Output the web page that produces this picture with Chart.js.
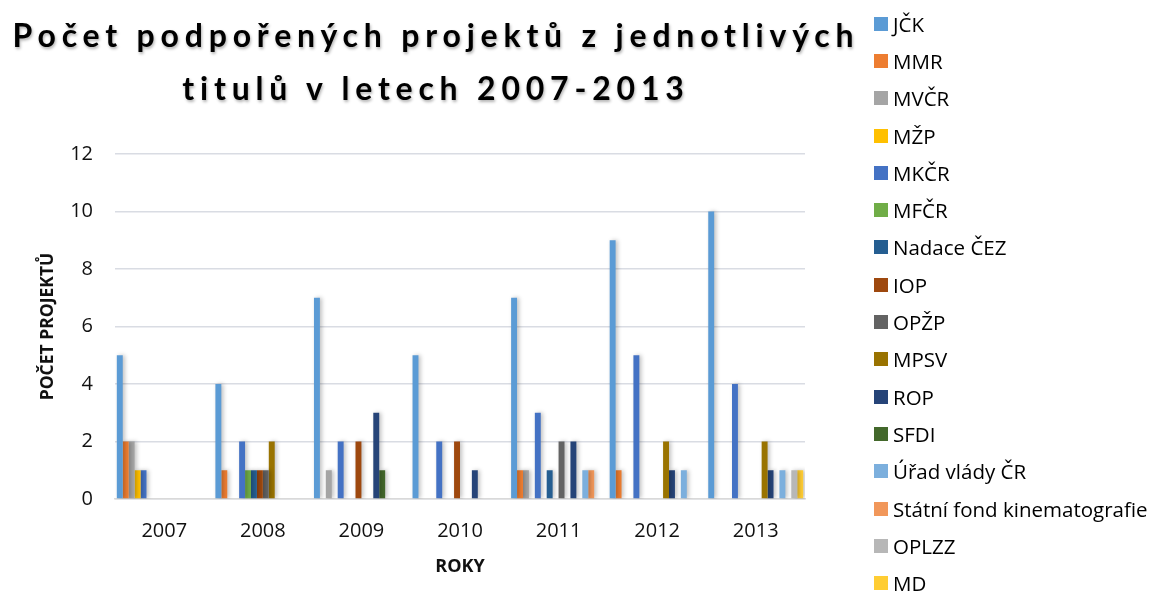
<!DOCTYPE html>
<html>
<head>
<meta charset="utf-8">
<script src="https://cdn.jsdelivr.net/npm/chart.js@4"></script>
<style>
  html, body { margin: 0; padding: 0; background: #fff; overflow: hidden; }
  #wrap { position: relative; width: 1155px; height: 592px; }
  #chart { position: absolute; left: 0; top: 0; }
  #title {
    position: absolute; left: 0; top: 8px; width: 872px;
    text-align: center; font-family: Lato, sans-serif; font-weight: 700;
    font-size: 32px; line-height: 53px; letter-spacing: 5.8px; color: #000;
    text-shadow: 1px 2px 3px rgba(0,0,0,0.3);
  }
  #legend { position: absolute; left: 874px; top: 5px; margin: 0; padding: 0; list-style: none; }
  #legend li {
    height: 37.3px; display: flex; align-items: center;
    font-family: 'Open Sans', sans-serif; font-size: 20.5px; color: #000; white-space: nowrap;
  }
  #legend span.box { width: 14px; height: 14px; margin-right: 5px; display: inline-block; }
</style>
</head>
<body>
<div id="wrap">
  <canvas id="chart" width="1155" height="592"></canvas>
  <div id="title">Počet podpořených projektů z jednotlivých<br>titulů v letech 2007-2013</div>
  <ul id="legend"></ul>
</div>
<script>
// roky a zdroje financování
const years = ['2007', '2008', '2009', '2010', '2011', '2012', '2013'];
const sources = ['JČK', 'MMR', 'MVČR', 'MŽP', 'MKČR', 'MFČR', 'Nadace ČEZ', 'IOP', 'OPŽP',
  'MPSV', 'ROP', 'SFDI', 'Úřad vlády ČR', 'Státní fond kinematografie', 'OPLZZ', 'MD'];
const colors = ['#5B9BD5', '#ED7D31', '#A5A5A5', '#FFC000', '#4472C4', '#70AD47', '#255E91', '#9E480E',
  '#636363', '#997300', '#264478', '#43682B', '#7CAFDD', '#F1975A', '#B7B7B7', '#FFCD33'];

// počty projektů, jeden řádek na zdroj (po letech)
const counts = [
  [5, 4, 7, 5, 7, 9, 10], // JČK
  [2, 1, 0, 0, 1, 1, 0],  // MMR
  [2, 0, 1, 0, 1, 0, 0],  // MVČR
  [1, 0, 0, 0, 0, 0, 0],  // MŽP
  [1, 2, 2, 2, 3, 5, 4],  // MKČR
  [0, 1, 0, 0, 0, 0, 0],  // MFČR
  [0, 1, 0, 0, 1, 0, 0],  // Nadace ČEZ
  [0, 1, 2, 2, 0, 0, 0],  // IOP
  [0, 1, 0, 0, 2, 0, 0],  // OPŽP
  [0, 2, 0, 0, 0, 2, 2],  // MPSV
  [0, 0, 3, 1, 2, 1, 1],  // ROP
  [0, 0, 1, 0, 0, 0, 0],  // SFDI
  [0, 0, 0, 0, 1, 1, 1],  // Úřad vlády ČR
  [0, 0, 0, 0, 1, 0, 0],  // Státní fond kinematografie
  [0, 0, 0, 0, 0, 0, 1],  // OPLZZ
  [0, 0, 0, 0, 0, 0, 1]   // MD
];
const yTicks = [0, 2, 4, 6, 8, 10, 12];

const datasets = sources.map((name, i) => ({
  label: name,
  data: counts[i],
  backgroundColor: colors[i],
  borderWidth: 0,
  categoryPercentage: 0.963,
  barPercentage: 1
}));

// jemný stín za sloupci
const barShadow = {
  id: 'barShadow',
  beforeDatasetsDraw(chart) {
    const ctx = chart.ctx;
    ctx.save();
    ctx.shadowColor = 'rgba(0,0,0,0.25)';
    ctx.shadowBlur = 4;
    ctx.shadowOffsetX = 2;
    ctx.shadowOffsetY = 0;
  },
  afterDatasetsDraw(chart) {
    chart.ctx.restore();
  }
};

const chart = new Chart(document.getElementById('chart').getContext('2d'), {
  type: 'bar',
  data: { labels: years, datasets: datasets },
  plugins: [barShadow],
  options: {
    responsive: false,
    animation: false,
    layout: { padding: { left: 0, right: 350, top: 154, bottom: 0 } },
    plugins: { legend: { display: false }, title: { display: false }, tooltip: { enabled: false } },
    scales: {
      x: {
        grid: { display: false },
        border: { display: true, color: '#D9D9D9', width: 1.5 },
        ticks: { color: '#111', font: { family: 'Open Sans', size: 20 }, padding: 12 },
        title: { display: true, text: 'ROKY', color: '#111',
          font: { family: 'Open Sans', size: 18, weight: 'bold' }, padding: { top: 0, bottom: 14 } },
        afterFit: s => { s.height = 93; }
      },
      y: {
        min: 0, max: 12,
        afterBuildTicks: s => { s.ticks = yTicks.map(v => ({ value: v })); },
        grid: { color: '#D9DCE3', lineWidth: 1.5, drawTicks: false },
        border: { display: false },
        ticks: { color: '#111', font: { family: 'Open Sans', size: 20 }, padding: 22 },
        title: { display: true, text: 'POČET PROJEKTŮ', color: '#111',
          font: { family: 'Open Sans', size: 17.5, weight: 'bold' }, padding: { top: 38, bottom: 0 } },
        afterFit: s => { s.width = 115; }
      }
    }
  }
});

// legenda vpravo
const legend = document.getElementById('legend');
chart.data.datasets.forEach(ds => {
  const li = document.createElement('li');
  const box = document.createElement('span');
  box.className = 'box';
  box.style.background = ds.backgroundColor;
  li.appendChild(box);
  li.appendChild(document.createTextNode(ds.label));
  legend.appendChild(li);
});
</script>
</body>
</html>
